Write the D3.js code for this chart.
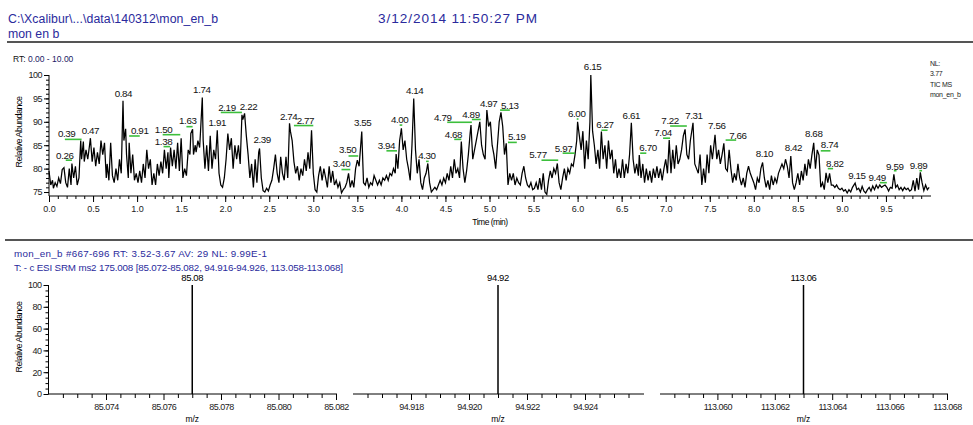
<!DOCTYPE html>
<html>
<head>
<script src="https://d3js.org/d3.v7.min.js"></script>
<style>
  body { margin: 0; background: #fff; }
  svg { font-family: 'Liberation Sans', Arial, sans-serif; }
  .hdr { fill: #2a2a9c; }
  .tick text { fill: #222; }
</style>
</head>
<body>
<div id="chart"></div>
<script>
// TIC chromatogram, [time (min), relative abundance]
const ticTrace = [
  [0.00,79.5],[0.02,76.5],[0.04,77.5],[0.05,75.8],[0.07,77],[0.09,76.2],[0.11,78],[0.13,76.8],[0.15,79.8],[0.17,80.2],
  [0.19,77],[0.21,76],[0.23,80],[0.25,76.5],[0.26,81.1],[0.28,78],[0.30,80.5],[0.32,76.5],[0.34,78],[0.36,86],
  [0.37,82],[0.39,85.8],[0.40,81.5],[0.42,84],[0.44,82],[0.46,85],[0.47,86.5],[0.49,81.5],[0.51,84.5],[0.53,80.5],
  [0.55,83.5],[0.57,81],[0.59,86],[0.61,83],[0.63,85.5],[0.65,78],[0.66,81],[0.68,77.5],[0.70,85.5],[0.72,78.5],
  [0.74,77],[0.76,80],[0.78,77.5],[0.80,82],[0.82,79],[0.84,94.5],[0.85,86],[0.87,88.5],[0.88,83],[0.90,78],
  [0.91,85.5],[0.93,79],[0.95,83],[0.97,77.5],[0.99,79],[1.01,77],[1.03,79.5],[1.05,77],[1.07,81],[1.09,78],
  [1.11,84],[1.13,80],[1.15,82],[1.17,76.5],[1.19,79],[1.21,76.5],[1.23,81],[1.25,78.5],[1.27,81.5],[1.29,79],
  [1.31,84],[1.33,80],[1.35,83.5],[1.36,78],[1.38,84.5],[1.40,80.5],[1.42,84],[1.44,80],[1.46,85.5],[1.48,79.5],
  [1.50,86.5],[1.52,78],[1.54,80],[1.56,78.5],[1.58,84],[1.60,83],[1.61,87.5],[1.63,88.4],[1.64,83],[1.66,85],
  [1.67,83.5],[1.69,86],[1.71,84.5],[1.72,88],[1.74,95.2],[1.75,86],[1.77,80],[1.79,85],[1.81,79.5],[1.83,87],
  [1.85,80],[1.87,84],[1.89,82],[1.91,88.2],[1.93,79],[1.95,76.5],[1.97,76],[1.99,78],[2.01,82],[2.03,87.5],
  [2.05,84],[2.07,86.5],[2.09,80],[2.11,85],[2.13,82],[2.15,85],[2.17,81],[2.19,91.5],[2.20,90.5],[2.22,91.8],
  [2.24,87],[2.26,83],[2.28,78],[2.30,81],[2.32,76],[2.34,82],[2.36,77],[2.38,83.5],[2.39,84.3],[2.41,78],
  [2.43,75.3],[2.45,75],[2.47,75.8],[2.49,75.2],[2.51,76.5],[2.53,77.5],[2.55,80],[2.57,83],[2.59,79],[2.61,77],
  [2.63,82.5],[2.65,79],[2.67,77.5],[2.69,82.5],[2.71,78],[2.73,89.7],[2.74,88],[2.76,86],[2.78,81.5],[2.80,79],
  [2.82,80.5],[2.84,77.5],[2.86,80],[2.88,78.5],[2.90,82],[2.92,79.5],[2.94,83.5],[2.96,80],[2.98,88.2],[3.00,79],
  [3.02,75.5],[3.04,75],[3.06,78.5],[3.08,80.5],[3.10,77.5],[3.12,80],[3.14,78],[3.16,76],[3.18,80.5],[3.20,77],
  [3.22,79.5],[3.24,76.5],[3.26,77.5],[3.28,76],[3.30,77],[3.32,74.8],[3.34,75.5],[3.36,76],[3.38,77],[3.40,79],
  [3.42,76],[3.44,77.5],[3.46,76],[3.48,80],[3.50,81.8],[3.52,80.5],[3.55,87.9],[3.57,77],[3.59,76.5],[3.61,78],
  [3.63,76],[3.65,77],[3.67,76.5],[3.69,78.5],[3.71,77.5],[3.73,76.5],[3.75,77.5],[3.77,76.5],[3.79,78],[3.81,77.5],
  [3.83,78.5],[3.85,77.5],[3.87,79],[3.89,78.5],[3.91,80],[3.93,79],[3.94,83.1],[3.96,80],[3.98,86],[4.00,88.6],
  [4.02,84],[4.04,86],[4.06,82],[4.08,80],[4.10,77.5],[4.12,85],[4.14,95],[4.16,84],[4.18,79],[4.20,82],
  [4.22,77],[4.24,75.5],[4.26,78],[4.28,79],[4.30,81.1],[4.32,77],[4.34,75],[4.36,75.5],[4.38,76],[4.40,75.5],
  [4.42,76.5],[4.44,77.5],[4.46,76.5],[4.48,78],[4.50,77],[4.52,79],[4.54,77.5],[4.56,80.5],[4.58,78],[4.60,82],
  [4.62,79],[4.64,80],[4.66,78],[4.68,85.8],[4.70,80],[4.72,77],[4.74,79.5],[4.76,83],[4.78,87.5],[4.79,89.3],
  [4.81,82],[4.83,84],[4.85,86],[4.87,88],[4.89,90],[4.91,85],[4.93,83],[4.95,82],[4.97,92.5],[4.99,89],
  [5.01,90],[5.03,85],[5.05,83],[5.07,80],[5.09,85],[5.11,90],[5.13,92],[5.15,89],[5.17,83],[5.19,85.4],
  [5.21,76.5],[5.23,79],[5.25,77.5],[5.27,79],[5.29,76.5],[5.31,78],[5.33,77],[5.35,76.5],[5.37,79],[5.39,80.5],
  [5.41,78],[5.43,76.5],[5.45,76],[5.47,77],[5.49,75.5],[5.51,75.8],[5.53,77],[5.55,75.5],[5.57,78],[5.59,75.5],
  [5.61,79],[5.63,75],[5.65,74.5],[5.67,77.5],[5.69,79.5],[5.71,78],[5.73,80],[5.75,79],[5.77,81.1],[5.79,77],
  [5.81,75.5],[5.83,78],[5.85,80],[5.87,77.5],[5.89,80],[5.91,79],[5.93,81],[5.95,80.5],[5.97,82.9],[5.99,86],
  [6.00,90],[6.02,87],[6.04,84],[6.06,88],[6.08,80],[6.10,86],[6.12,82],[6.14,90],[6.15,100],[6.17,88],
  [6.19,85],[6.21,81],[6.23,84],[6.25,80],[6.27,87.9],[6.29,82],[6.31,85],[6.33,80],[6.35,86],[6.37,82],
  [6.39,84],[6.41,79],[6.43,82],[6.45,78],[6.47,80],[6.49,78],[6.51,82],[6.53,78],[6.55,81],[6.57,79],
  [6.59,83],[6.61,89.8],[6.63,82],[6.65,79],[6.67,81],[6.69,78.5],[6.70,82.9],[6.72,78],[6.74,81],[6.76,77],
  [6.78,80],[6.80,77.5],[6.82,79.5],[6.84,77],[6.86,80],[6.88,78],[6.90,80.5],[6.92,78],[6.94,80],[6.96,77.5],
  [6.98,80],[7.00,82],[7.02,79],[7.04,86.1],[7.06,79],[7.08,84],[7.10,80],[7.12,85],[7.14,81],[7.16,82],
  [7.18,84],[7.20,87],[7.22,88.4],[7.24,83],[7.26,82],[7.28,86],[7.31,89.8],[7.33,81],[7.35,80],[7.37,79],
  [7.39,83],[7.41,76.5],[7.43,80],[7.45,77],[7.47,83],[7.49,79],[7.51,85],[7.53,82],[7.56,87.2],[7.58,82],
  [7.60,84],[7.62,81],[7.64,83],[7.66,85.4],[7.68,80],[7.70,79.5],[7.72,84],[7.74,80],[7.76,77],[7.78,79],
  [7.80,77.5],[7.82,81],[7.84,78],[7.86,76.5],[7.88,78],[7.90,76],[7.92,79],[7.94,80.5],[7.96,79],[7.98,78],
  [8.00,77],[8.02,75.5],[8.04,78],[8.06,77],[8.08,80],[8.10,81.3],[8.12,78],[8.14,76],[8.16,77.5],[8.18,75.5],
  [8.20,78.5],[8.22,76.5],[8.24,78],[8.26,77],[8.28,79],[8.30,80],[8.32,81],[8.34,80],[8.36,82],[8.38,80.5],
  [8.40,78],[8.42,82.7],[8.44,77],[8.46,75.5],[8.48,77],[8.50,79],[8.52,76.5],[8.54,79.5],[8.56,77.5],[8.58,81],
  [8.60,78.5],[8.62,82],[8.64,80],[8.66,83],[8.68,85.5],[8.70,80],[8.72,84],[8.74,82.9],[8.76,76],[8.78,77],
  [8.80,75.5],[8.82,79.1],[8.84,77],[8.86,79],[8.88,76.5],[8.90,76.5],[8.92,76],[8.94,76.5],[8.96,75.8],[8.98,75.5],
  [9.00,75.8],[9.02,75.2],[9.04,75.5],[9.06,74.8],[9.08,75.5],[9.10,75],[9.12,76],[9.15,76.9],[9.17,75.5],[9.19,75.8],
  [9.21,75],[9.23,76.2],[9.25,75.2],[9.27,74.8],[9.29,75.5],[9.31,76],[9.33,75.2],[9.35,76.3],[9.37,75.5],[9.39,76.5],
  [9.41,75.8],[9.43,76.5],[9.45,76],[9.47,76.3],[9.49,76.5],[9.51,76],[9.53,75.2],[9.55,76],[9.57,75.8],[9.59,78.8],
  [9.61,76],[9.63,76.5],[9.65,75.5],[9.67,76],[9.69,75.3],[9.71,76],[9.73,75.5],[9.75,75.8],[9.77,75.2],[9.79,75.5],
  [9.81,77.5],[9.83,75.2],[9.85,78],[9.87,75.5],[9.89,79.2],[9.91,77],[9.93,75.3],[9.95,76.5],[9.97,75.5],[9.99,76]
];

// retention time labels: text, label centre time, label baseline abundance
const rtLabels = [
  ["0.26",0.18,82.1],["0.39",0.20,86.7],["0.47",0.47,87.4],["0.84",0.845,95.4],["0.91",1.03,87.4],
  ["1.50",1.30,87.7],["1.38",1.30,85.0],["1.63",1.575,89.5],["1.74",1.735,96.1],["1.91",1.91,89.2],
  ["2.19",2.02,92.3],["2.22",2.265,92.5],["2.39",2.42,85.4],["2.74",2.72,90.4],["2.77",2.91,89.5],
  ["3.40",3.32,80.3],["3.50",3.39,83.3],["3.55",3.56,89.0],["3.94",3.83,84.1],["4.00",3.98,89.7],
  ["4.14",4.15,95.9],["4.30",4.29,82.0],["4.68",4.59,86.6],["4.79",4.47,90.1],["4.89",4.79,90.9],
  ["4.97",4.99,93.2],["5.13",5.23,92.8],["5.19",5.31,86.1],["5.77",5.55,82.3],["5.97",5.84,83.6],
  ["6.00",5.99,91.1],["6.15",6.17,101.1],["6.27",6.31,88.7],["6.61",6.61,90.7],["6.70",6.80,83.8],
  ["7.04",6.97,87.0],["7.22",7.05,89.5],["7.31",7.32,90.7],["7.56",7.58,88.4],["7.66",7.82,86.4],
  ["8.10",8.12,82.4],["8.42",8.45,83.7],["8.68",8.68,86.7],["8.74",8.86,84.3],["8.82",8.92,80.4],
  ["9.15",9.17,77.85],["9.49",9.40,77.35],["9.59",9.60,79.8],["9.89",9.87,80.0]
];

// green peak-width bars: start time, end time, abundance
const peakBars = [
  [0.19,0.26,81.8],[0.18,0.37,86.25],[0.91,1.03,86.97],[1.29,1.49,87.25],[1.30,1.375,84.7],[1.56,1.63,88.96],
  [1.95,2.19,92.0],[2.78,3.00,89.2],[3.32,3.42,79.8],[3.40,3.51,82.7],[3.83,3.95,83.8],[3.98,4.01,89.3],
  [4.28,4.31,81.55],[4.60,4.68,86.25],[4.52,4.80,89.9],[4.80,4.90,90.5],[5.12,5.23,92.5],[5.21,5.31,85.6],
  [5.59,5.78,81.8],[5.83,5.97,83.3],[5.99,6.01,90.6],[6.27,6.34,88.2],[6.71,6.78,83.3],[6.97,7.05,86.5],
  [7.05,7.24,89.1],[7.68,7.80,86.1],[8.76,8.87,83.8],[8.84,8.90,80.0],[9.43,9.51,77.0],[9.59,9.62,79.55],
  [9.88,9.91,79.55]
];

const rtMajorTicks = [0.0,0.5,1.0,1.5,2.0,2.5,3.0,3.5,4.0,4.5,5.0,5.5,6.0,6.5,7.0,7.5,8.0,8.5,9.0,9.5];
const ticYTicks = [75,80,85,90,95,100];

// SRM spectrum, one window per transition
const massWindows = [[85.072,85.082],[94.916,94.926],[113.058,113.068]];
const massTickLabels = [
  [85.074,85.076,85.078,85.080,85.082],
  [94.918,94.920,94.922,94.924],
  [113.060,113.062,113.064,113.066,113.068]
];
const massPeaks = [85.077,94.921,113.063];
const massPeakText = ["85.08","94.92","113.06"];
const massIntensity = [100,100,100];
const specYTicks = [0,20,40,60,80,100];

const W = 973, H = 425;
const svg = d3.select("#chart").append("svg").attr("width", W).attr("height", H);

// ---- page header ----
svg.append("text").attr("class","hdr").attr("x",8).attr("y",23).attr("font-size",12.3)
  .attr("textLength",210).attr("lengthAdjust","spacing")
  .text("C:\\Xcalibur\\...\\data\\140312\\mon_en_b");
svg.append("text").attr("class","hdr").attr("x",378).attr("y",23).attr("font-size",13.6)
  .attr("textLength",159).attr("lengthAdjust","spacing")
  .text("3/12/2014 11:50:27 PM");
svg.append("text").attr("class","hdr").attr("x",8).attr("y",38).attr("font-size",12.3).text("mon en b");
svg.append("line").attr("x1",7).attr("x2",973).attr("y1",42).attr("y2",42)
  .attr("stroke","#555").attr("stroke-width",2);

const rt = svg.append("text").attr("x",13).attr("y",62).attr("font-size",8.5);
rt.append("tspan").attr("fill","#111").text("RT: ");
rt.append("tspan").attr("fill","#1a1a66").text("0.00 - 10.00");

// ---- chromatogram ----
const x = d3.scaleLinear().domain([0,10]).range([49,930]);
const y = d3.scaleLinear().domain([74.15,100]).range([196,75]);

const gx = svg.append("g").attr("transform","translate(0,196)");
gx.append("line").attr("x1",x(0)).attr("x2",x(10)+1).attr("stroke","#000");
gx.call(d3.axisBottom(x).tickValues(d3.range(0,100).map(i => i/10)).tickSize(3).tickFormat(""))
  .call(g => g.select(".domain").remove());
gx.append("g").call(d3.axisBottom(x).tickValues(rtMajorTicks).tickSize(6).tickPadding(4)
    .tickFormat(d3.format(".1f")))
  .call(g => g.select(".domain").remove())
  .selectAll("text").attr("font-size",9);

const gy = svg.append("g").attr("transform",`translate(${x(0)},0)`);
gy.append("line").attr("y1",y(100)).attr("y2",196).attr("stroke","#000");
gy.call(d3.axisLeft(y).tickValues(d3.range(75,101)).tickSize(3).tickFormat(""))
  .call(g => g.select(".domain").remove());
gy.append("g").call(d3.axisLeft(y).tickValues(ticYTicks).tickSize(5).tickPadding(2).tickFormat(d3.format("d")))
  .call(g => g.select(".domain").remove())
  .selectAll("text").attr("font-size",9).attr("letter-spacing",-0.5);
svg.selectAll(".tick line").attr("stroke","#000");

svg.append("path").datum(ticTrace)
  .attr("fill","none").attr("stroke","#000").attr("stroke-width",1.25)
  .attr("d", d3.line().x(d => x(d[0])).y(d => y(d[1])));

svg.append("g").selectAll("line").data(peakBars).join("line")
  .attr("x1", d => x(d[0])).attr("x2", d => x(d[1]))
  .attr("y1", d => y(d[2])).attr("y2", d => y(d[2]))
  .attr("stroke","#3cbf3c").attr("stroke-width",1.6);

svg.append("g").selectAll("text").data(rtLabels).join("text")
  .attr("x", d => x(d[1])).attr("y", d => y(d[2]))
  .attr("text-anchor","middle").attr("font-size",9.8).attr("letter-spacing",-0.4).attr("fill","#111")
  .text(d => d[0]);

svg.append("text").attr("transform","translate(22,132) rotate(-90)")
  .attr("text-anchor","middle").attr("font-size",9).attr("letter-spacing",-0.5).text("Relative Abundance");
svg.append("text").attr("x",490).attr("y",225).attr("text-anchor","middle")
  .attr("font-size",8.5).attr("letter-spacing",-0.5).text("Time (min)");

const nl = svg.append("g").attr("font-size",7).attr("fill","#222");
["NL:","3.77","TIC MS","mon_en_b"].forEach((s,i) =>
  nl.append("text").attr("x",930).attr("y",66 + i*10.3).attr("letter-spacing",-0.3).text(s));

// ---- spectrum ----
svg.append("line").attr("x1",5).attr("x2",973).attr("y1",240).attr("y2",240)
  .attr("stroke","#555").attr("stroke-width",2);
svg.append("text").attr("class","hdr").attr("x",14).attr("y",257).attr("font-size",9.8)
  .attr("textLength",253).attr("lengthAdjust","spacing")
  .text("mon_en_b #667-696  RT: 3.52-3.67  AV: 29  NL: 9.99E-1");
svg.append("text").attr("class","hdr").attr("x",14).attr("y",271).attr("font-size",9.8)
  .attr("textLength",329).attr("lengthAdjust","spacing")
  .text("T: - c ESI SRM ms2 175.008 [85.072-85.082, 94.916-94.926, 113.058-113.068]");

const ys = d3.scaleLinear().domain([0,100]).range([394,285]);
const panelRanges = [[48.5,336],[353,643],[660,947]];

massWindows.forEach((dom, i) => {
  const xs = d3.scaleLinear().domain(dom).range(panelRanges[i]);
  const g = svg.append("g").attr("transform","translate(0,394)");
  g.append("line").attr("x1",xs.range()[0]).attr("x2",xs.range()[1]+1).attr("stroke","#000");
  const minors = d3.range(1,21).map(k => dom[0] + k*0.0005)
    .filter(v => v < dom[1] + 1e-9 && !massTickLabels[i].some(m => Math.abs(m - v) < 1e-7));
  const minorsShown = i === 1 ? minors.filter(v => v < dom[1] - 1e-7) : minors;
  g.append("g").call(d3.axisBottom(xs).tickValues(minorsShown).tickSize(4).tickFormat(""))
    .call(a => a.select(".domain").remove());
  g.append("g").call(d3.axisBottom(xs).tickValues(massTickLabels[i]).tickSize(6).tickPadding(4)
      .tickFormat(d3.format(".3f")))
    .call(a => a.select(".domain").remove())
    .selectAll("text").attr("font-size",9).attr("letter-spacing",-0.5);

  svg.append("line")
    .attr("x1", xs(massPeaks[i])).attr("x2", xs(massPeaks[i]))
    .attr("y1", ys(0)).attr("y2", ys(massIntensity[i]))
    .attr("stroke","#000").attr("stroke-width",1.5);
  svg.append("text").attr("x", xs(massPeaks[i])).attr("y", ys(massIntensity[i]) - 4)
    .attr("text-anchor","middle").attr("font-size",9.5).attr("letter-spacing",-0.4).text(massPeakText[i]);
  svg.append("text").attr("x", d3.mean(xs.range())).attr("y", 422)
    .attr("text-anchor","middle").attr("font-size",8.5).text("m/z");
});

const gys = svg.append("g").attr("transform","translate(48.5,0)");
gys.append("line").attr("y1",ys(100)).attr("y2",ys(0)).attr("stroke","#000");
gys.call(d3.axisLeft(ys).tickValues(d3.range(0,101,5)).tickSize(3).tickFormat(""))
  .call(g => g.select(".domain").remove());
gys.append("g").call(d3.axisLeft(ys).tickValues(specYTicks).tickSize(5).tickPadding(2).tickFormat(d3.format("d")))
  .call(g => g.select(".domain").remove())
  .selectAll("text").attr("font-size",9).attr("letter-spacing",-0.5);
svg.append("text").attr("transform","translate(22,337) rotate(-90)")
  .attr("text-anchor","middle").attr("font-size",9).attr("letter-spacing",-0.5).text("Relative Abundance");

svg.selectAll(".tick line").attr("stroke","#000");
</script>
</body>
</html>
